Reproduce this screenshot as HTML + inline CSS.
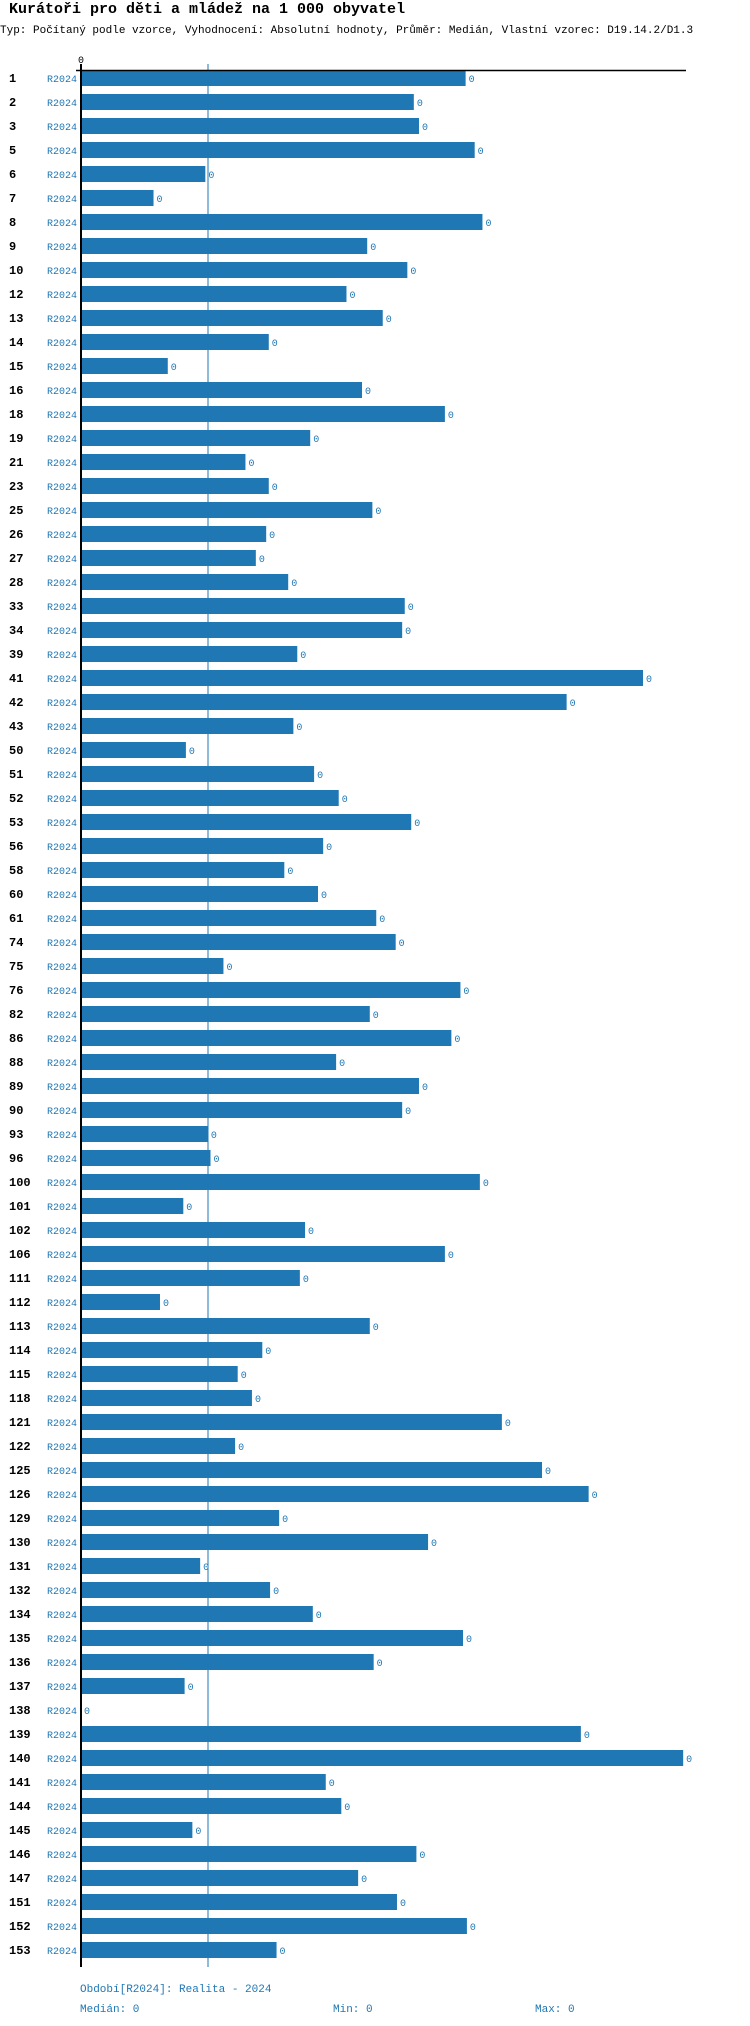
<!DOCTYPE html>
<html><head><meta charset="utf-8">
<style>
html,body{margin:0;padding:0;background:#fff;}
svg{display:block;}
text{font-family:"Liberation Mono",monospace;}
</style></head>
<body>
<svg id="chart" width="750" height="2026" xmlns="http://www.w3.org/2000/svg">
<text x="9" y="13" font-size="15" font-weight="bold" fill="#000">Kurátoři pro děti a mládež na 1 000 obyvatel</text>
<text x="0" y="33" font-size="11" fill="#000">Typ: Počítaný podle vzorce, Vyhodnocení: Absolutní hodnoty, Průměr: Medián, Vlastní vzorec: D19.14.2/D1.3</text>
<g id="bars"></g>
<text x="78" y="63" font-size="10" fill="#000">0</text>
<line x1="208" y1="64" x2="208" y2="1967" stroke="#1f77b4" stroke-width="1"/>
<line x1="76" y1="70.5" x2="686" y2="70.5" stroke="#000" stroke-width="1.5"/>
<line x1="81" y1="64" x2="81" y2="1967" stroke="#000" stroke-width="2"/>
<text x="80" y="1992" font-size="11" fill="#1f77b4">Období[R2024]: Realita - 2024</text>
<text x="80" y="2012" font-size="11" fill="#1f77b4">Medián: 0</text>
<text x="333" y="2012" font-size="11" fill="#1f77b4">Min: 0</text>
<text x="535" y="2012" font-size="11" fill="#1f77b4">Max: 0</text>
</svg>
<script>
const categories = ["1","2","3","5","6","7","8","9","10","12","13","14","15","16","18","19","21","23","25","26","27","28","33","34","39","41","42","43","50","51","52","53","56","58","60","61","74","75","76","82","86","88","89","90","93","96","100","101","102","106","111","112","113","114","115","118","121","122","125","126","129","130","131","132","134","135","136","137","138","139","140","141","144","145","146","147","151","152","153"];
const values = [297,257,261,304,96,56,310,221,252,205,233,145,67,217,281,177,127,145,225,143,135,160,250,248,167,434,375,164,81,180,199,255,187,157,183,228,243,110,293,223,286,197,261,248,98,100,308,79,173,281,169,61,223,140,121,132,325,119,356,392,153,268,92,146,179,295,226,80,0,386,465,189,201,86,259,214,244,298,151];
const valueLabels = categories.map(() => "0");
const periodLabel = "R2024";

const x0 = 81, xScale = 1.295;
function xPos(v){ return x0 + v * xScale; }
function yPos(i){ return 70 + i * 24; }
const NS = "http://www.w3.org/2000/svg";
const g = document.getElementById("bars");
categories.forEach((c, i) => {
  const y = yPos(i);
  const t = document.createElementNS(NS, "text");
  
  
  t.setAttribute("x", 9); t.setAttribute("y", y + 12);
  t.setAttribute("font-size", "12"); t.setAttribute("font-weight", "bold");
  t.textContent = c; g.appendChild(t);
  const p = document.createElementNS(NS, "text");
  
  
  p.setAttribute("x", 77); p.setAttribute("y", y + 12);
  p.setAttribute("text-anchor", "end");
  p.setAttribute("font-size", "10"); p.setAttribute("fill", "#1f77b4");
  p.textContent = periodLabel; g.appendChild(p);
  const r = document.createElementNS(NS, "rect");
  
  
  r.setAttribute("x", x0); r.setAttribute("y", y);
  r.setAttribute("width", Math.max(0, xPos(values[i]) - x0));
  r.setAttribute("height", 16); r.setAttribute("fill", "#1f77b4");
  g.appendChild(r);
  const v = document.createElementNS(NS, "text");
  
  
  v.setAttribute("x", xPos(values[i]) + 3); v.setAttribute("y", y + 12);
  v.setAttribute("font-size", "10"); v.setAttribute("fill", "#1f77b4");
  v.textContent = valueLabels[i]; g.appendChild(v);
});
</script>
</body></html>
